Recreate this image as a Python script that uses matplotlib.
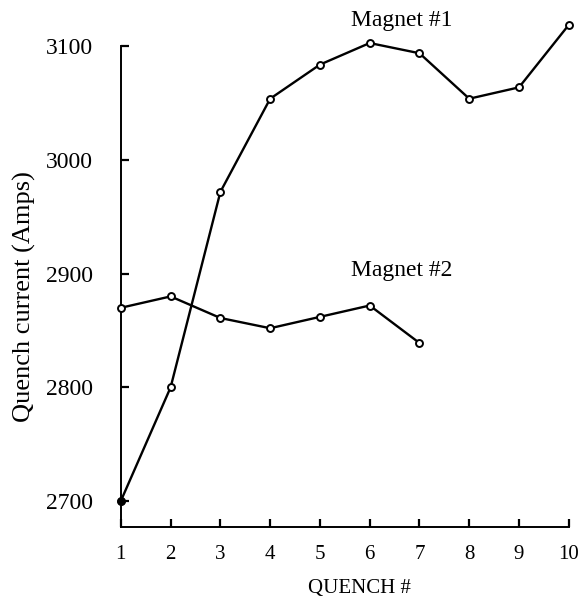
import matplotlib.pyplot as plt

## dados
quench = [1, 2, 3, 4, 5, 6, 7, 8, 9, 10]
magnet1 = [2700, 2800, 2972, 3054, 3084, 3103, 3094, 3054, 3064, 3119]
quench2 = [1, 2, 3, 4, 5, 6, 7]
magnet2 = [2870, 2880, 2861, 2852, 2862, 2872, 2839]
yticks = [2700, 2800, 2900, 3000, 3100]

plt.rcParams['font.family'] = ['Liberation Serif', 'DejaVu Serif']

fig = plt.figure(figsize=(5.81, 6.01), dpi=100)
ax = fig.add_axes([0.208, 0.123, 0.771, 0.847])

ax.plot(quench, magnet1, color='black', lw=1.7, marker='o', ms=5,
        mfc='white', mec='black', mew=1.4, clip_on=False, zorder=3)
ax.plot(quench[0], magnet1[0], 'o', color='black', ms=5, clip_on=False, zorder=4)
ax.plot(quench2, magnet2, color='black', lw=1.7, marker='o', ms=5,
        mfc='white', mec='black', mew=1.4, clip_on=False, zorder=3)

ax.text(6.64, 3123, "Magnet #1", ha='center', va='center', fontsize=17)
ax.text(6.64, 2903, "Magnet #2", ha='center', va='center', fontsize=17)

ax.set_xlim(1, 10)
ax.set_ylim(2677, 3125)
ax.set_xticks(quench)
ax.set_yticks(yticks)
ax.tick_params(direction='in', length=6, width=1.6)
ax.tick_params(axis='x', labelsize=15, pad=13)
ax.tick_params(axis='y', labelsize=17, pad=20)

ax.spines['top'].set_visible(False)
ax.spines['right'].set_visible(False)
ax.spines['left'].set_bounds(2677, 3100)
ax.spines['left'].set_linewidth(1.4)
ax.spines['bottom'].set_linewidth(1.4)

ax.set_xlabel("QUENCH #", fontsize=15)
ax.xaxis.set_label_coords(0.533, -0.102)
ax.set_ylabel("Quench current (Amps)", fontsize=19)
ax.yaxis.set_label_coords(-0.19, 0.452)

plt.savefig("out.png", dpi=100)
